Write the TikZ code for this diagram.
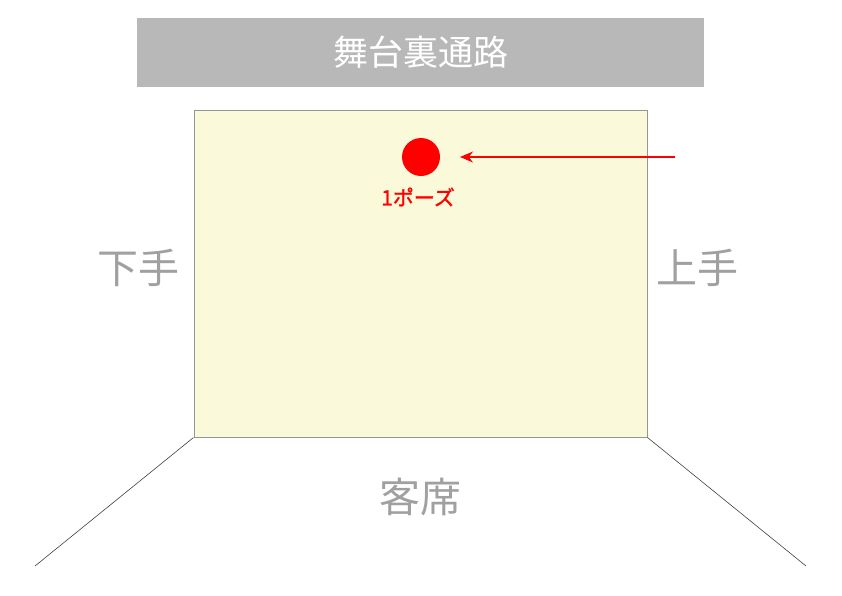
\documentclass[tikz,border=0pt]{standalone}
\usepackage{fontspec}
\newfontfamily\jpfont{Noto Sans CJK JP}
\newfontfamily\jpmid[FakeBold=1.2]{Noto Sans CJK JP}
\usetikzlibrary{arrows.meta}
\definecolor{bannergray}{RGB}{184,184,185}
\definecolor{stagefill}{RGB}{250,250,218}
\definecolor{stageline}{RGB}{150,150,150}
\definecolor{labelgray}{RGB}{160,160,160}

\begin{document}
\begin{tikzpicture}[x=1pt,y=-1pt,
  side/.style={font=\jpfont\fontsize{41}{41}\selectfont,text=labelgray,inner sep=0pt}]
\useasboundingbox (0,0) rectangle (842,595);
\node[fill=bannergray,minimum width=567pt,minimum height=69pt,inner sep=0pt,
  font=\jpfont\fontsize{35}{35}\selectfont,text=white] (banner) at (420.5,52.5) {舞台裏通路};
\node[draw=stageline,fill=stagefill,line width=1pt,minimum width=453pt,minimum height=327pt,inner sep=0pt] (stage) at (420.5,273.5) {};
\coordinate (lw) at (35,566);
\coordinate (rw) at (806,566);
\draw[black!75,line width=0.6pt] (stage.south west) -- (lw);
\draw[black!75,line width=0.6pt] (stage.south east) -- (rw);
\node[side] (shimote) at (138,268) {下手};
\node[side] (kamite) at (697,268) {上手};
\node[side] (kyaku) at (420,497) {客席};
% pose
\node[circle,fill=red,minimum size=38pt,inner sep=0pt] (pose) at (421,157) {};
\node[text=red,font=\jpmid\fontsize{21}{21}\selectfont,inner sep=0pt] (posetext) at (418,197) {1ポーズ};
\coordinate (astart) at (675,157);
\coordinate (atip) at (460,157);
\draw[-{Stealth[length=13pt,width=11pt]},red,line width=1.3pt] (astart) -- (atip);
\end{tikzpicture}
\end{document}
